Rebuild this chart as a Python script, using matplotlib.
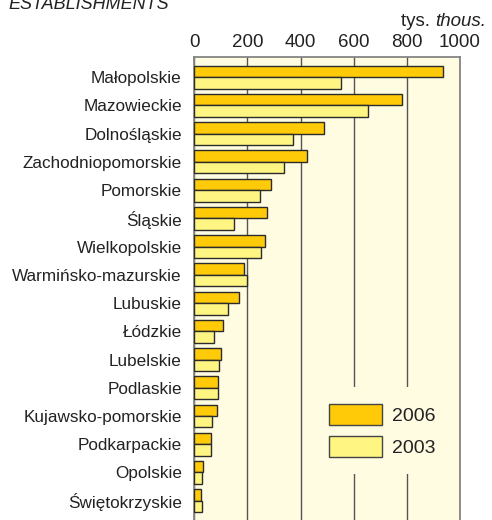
#!/usr/bin/env python3
"""Horizontal paired bar chart of establishments by voivodeship, 2003 vs 2006."""

import matplotlib
matplotlib.use("Agg")
import matplotlib.pyplot as plt
from matplotlib.patches import Patch
import numpy as np

regions = [
    "Małopolskie",
    "Mazowieckie",
    "Dolnośląskie",
    "Zachodniopomorskie",
    "Pomorskie",
    "Śląskie",
    "Wielkopolskie",
    "Warmińsko-mazurskie",
    "Lubuskie",
    "Łódzkie",
    "Lubelskie",
    "Podlaskie",
    "Kujawsko-pomorskie",
    "Podkarpackie",
    "Opolskie",
    "Świętokrzyskie",
]
values_2006 = [936, 782, 488, 425, 287, 274, 266, 187, 169, 109, 100, 90, 86, 64, 34, 26]
values_2003 = [554, 652, 372, 338, 246, 150, 252, 200, 128, 74, 93, 90, 68, 64, 30, 30]
xticks = [0, 200, 400, 600, 800, 1000]

COLORS = {
    "y2006": "#FFCB08",
    "y2003": "#FFF583",
    "bg": "#FFFCE1",
    "edge": "#2b2b2b",
    "grid": "#555555",
    "spine": "#858585",
    "text": "#222222",
}

plt.rcParams.update({
    "font.family": ["Liberation Sans", "DejaVu Sans"],
    "text.color": COLORS["text"],
})

fig = plt.figure(figsize=(4.92, 5.2), dpi=100)
ax = fig.add_axes([0.3949, -0.0096, 0.540, 0.90])
ax.set_facecolor(COLORS["bg"])

y = np.arange(len(regions))
h = 0.406
bar_style = dict(edgecolor=COLORS["edge"], linewidth=1.0, align="edge", zorder=3)
ax.barh(y - h, values_2006, height=h, color=COLORS["y2006"], **bar_style)
ax.barh(y, values_2003, height=h, color=COLORS["y2003"], **bar_style)

ax.set_xlim(0, 1000)
ax.set_ylim(len(regions) - 0.14, -0.714)
ax.set_xticks(xticks)
ax.xaxis.tick_top()
ax.tick_params(axis="x", length=0, pad=4, labelsize=13.5, labelcolor=COLORS["text"])
ax.set_yticks(y)
ax.set_yticklabels(regions)
ax.tick_params(axis="y", length=0, pad=9, labelsize=12.3, labelcolor=COLORS["text"])

ax.set_axisbelow(True)
ax.grid(True, axis="x", color=COLORS["grid"], linewidth=1.0)
ax.grid(False, axis="y")
for side in ("top", "left", "right", "bottom"):
    ax.spines[side].set_color(COLORS["spine"])
    ax.spines[side].set_linewidth(1.3)

handles = [
    Patch(facecolor=COLORS["y2006"], edgecolor="#444444", linewidth=1.0, label="2006"),
    Patch(facecolor=COLORS["y2003"], edgecolor="#444444", linewidth=1.0, label="2003"),
]
ax.legend(
    handles=handles,
    loc="upper left",
    bbox_to_anchor=(312 / 492, 1 - 387 / 520),
    bbox_transform=fig.transFigure,
    borderaxespad=0,
    fontsize=14,
    handlelength=2.75,
    handleheight=1.3,
    handletextpad=0.5,
    labelspacing=0.58,
    borderpad=0.85,
    frameon=True,
    fancybox=False,
    framealpha=1.0,
    facecolor=COLORS["bg"],
    edgecolor="none",
)

# heading runs off the top edge, continuing from the panel above
fig.text(8 / 492, 1 - 9 / 520, "ESTABLISHMENTS", fontsize=13, style="italic",
         ha="left", va="baseline")

# unit label: "tys." upright, "thous." italic
unit = fig.text(486 / 492, 1 - 26 / 520, "thous.", fontsize=13.5, style="italic",
                ha="right", va="baseline")
ax.annotate("tys. ", xy=(0, 0), xycoords=unit, fontsize=13.5, ha="right",
            va="bottom", annotation_clip=False)

fig.savefig("out.png", dpi=100)
